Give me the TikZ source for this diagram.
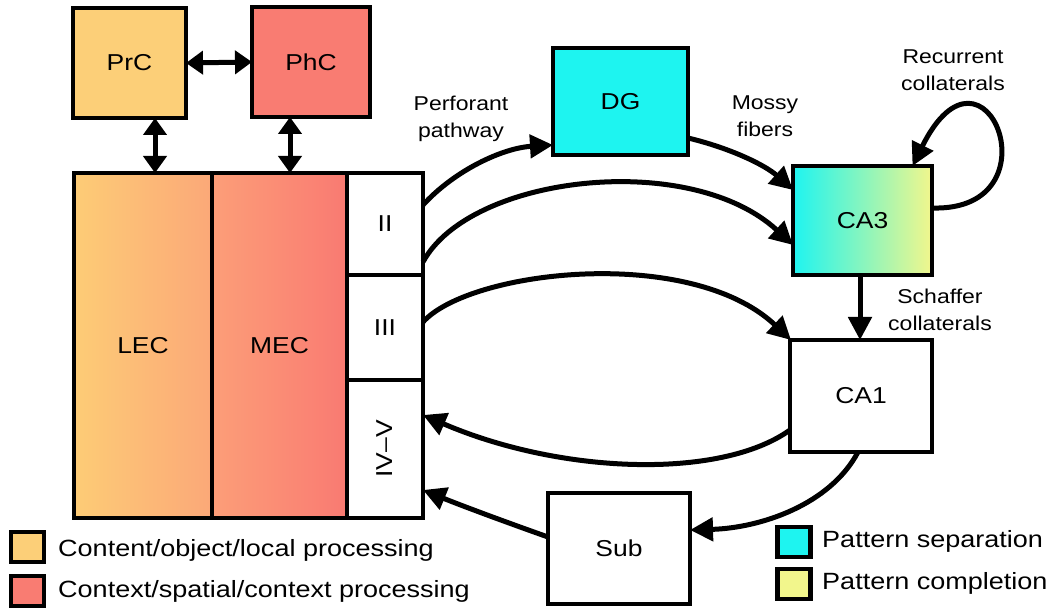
\documentclass[tikz,border=0pt]{standalone}
\usepackage{fontspec}
\setmainfont[FakeStretch=1.15]{Liberation Sans}
\usetikzlibrary{arrows.meta,calc}
\definecolor{prc}{HTML}{FCCF78}
\definecolor{phc}{HTML}{F97C72}
\definecolor{lecL}{HTML}{FDCC76}
\definecolor{lecR}{HTML}{FBA878}
\definecolor{mecL}{HTML}{FC9E78}
\definecolor{mecR}{HTML}{F97A72}
\definecolor{cyanc}{HTML}{1EF4F0}
\definecolor{yelc}{HTML}{F2F68C}
\begin{document}
\begin{tikzpicture}[x=1pt,y=-1pt,
  box/.style={draw=black,line width=4.5pt,inner sep=0pt,outer sep=0pt,font=\fontsize{23}{28}\selectfont},
  lbl/.style={align=center,font=\fontsize{20}{27}\selectfont,inner sep=0pt},
  leg/.style={anchor=west,font=\fontsize{23.5}{27}\selectfont,inner sep=0pt},
  sq/.style={draw=black,line width=4.5pt,minimum width=33pt,minimum height=30pt,inner sep=0pt,outer sep=0pt},
  conn/.style={line width=5pt,-{Triangle[length=23pt,width=23pt]}},
  dbl/.style={line width=5pt,{Triangle[length=17pt,width=23pt]}-{Triangle[length=17pt,width=23pt]}}]
\path[use as bounding box] (0,0) rectangle (1053,609);

% entorhinal cortex block
\node[box,minimum width=138pt,minimum height=345pt,left color=lecL,right color=lecR] (LEC) at (143,345.5) {LEC};
\node[box,minimum width=135pt,minimum height=345pt,left color=mecL,right color=mecR] (MEC) at (279.5,345.5) {MEC};
\node[box,minimum width=76pt,minimum height=102pt,fill=white] (II) at (385,224) {II};
\node[box,minimum width=76pt,minimum height=105pt,fill=white] (III) at (385,327.5) {III};
\node[box,minimum width=76pt,minimum height=138pt,fill=white] (IVV) at (385,449) {\rotatebox{90}{IV--V}};

% top boxes
\node[box,minimum width=113pt,minimum height=110pt,fill=prc] (PrC) at (129.5,63) {PrC};
\node[box,minimum width=118pt,minimum height=110pt,fill=phc] (PhC) at (311,62) {PhC};

% hippocampus
\node[box,minimum width=135pt,minimum height=107pt,fill=cyanc] (DG) at (620.5,101.5) {DG};
\node[box,minimum width=139pt,minimum height=109pt,left color=cyanc,right color=yelc] (CA3) at (862.5,220.5) {CA3};
\node[box,minimum width=142pt,minimum height=112pt,fill=white] (CA1) at (861,396) {CA1};
\node[box,minimum width=142pt,minimum height=111pt,fill=white] (Sub) at (619,548.5) {Sub};

% double arrows
\draw[dbl] (PrC.east) -- (PhC.west);
\draw[dbl] ([xshift=25.5pt]PrC.south) -- ([xshift=25.5pt]PrC.south |- LEC.north);
\draw[dbl] ([xshift=-21pt]PhC.south) -- ([xshift=-21pt]PhC.south |- MEC.north);

% pathways
\draw[conn] ([yshift=19pt]II.east) .. controls +(32,-35) and +(-50,3) .. ([yshift=-43.5pt]DG.west);
\draw[conn] ([yshift=-36.5pt]DG.east) .. controls +(42,10) and +(-28,-25) .. ([yshift=30.5pt]CA3.west);
\draw[conn] ([yshift=-38pt]II.east) .. controls (470,175) and (690,150) .. ([yshift=-24.5pt]CA3.west);
\draw[conn] ([yshift=5.5pt]III.east) .. controls (470,270) and (690,245) .. ([xshift=1pt]CA1.north west);
\draw[conn] ([yshift=-34pt]CA1.west) .. controls (720,480) and (560,474) .. ([yshift=34pt]IVV.east);
\draw[conn] ([xshift=-3pt]CA1.south) .. controls (830,505) and (760,528) .. ([yshift=18.5pt]Sub.east);
\draw[conn] ([yshift=11.5pt]Sub.west) .. controls (500,520) and (460,505) .. ([yshift=-41pt]IVV.east);
\draw[conn] ([yshift=12.5pt]CA3.east) .. controls (1060,212) and (985,20) .. ([xshift=50pt]CA3.north);
\draw[conn] ([xshift=-2.5pt]CA3.south) -- ([xshift=-2.5pt]CA3.south |- CA1.north);

% labels
\node[lbl] (perf) at (461,119) {Perforant\\pathway};
\node[lbl] (mossy) at (765,116) {Mossy\\fibers};
\node[lbl] (recur) at (953,70) {Recurrent\\collaterals};
\node[lbl] (schaf) at (940,310) {Schaffer\\collaterals};

% legends
\node[sq,fill=prc] (lg1) at (27.5,547) {};
\node[sq,fill=phc] (lg2) at (27.5,591) {};
\node[leg] (lt1) at (58,550) {Content/object/local processing};
\node[leg] (lt2) at (58,591) {Context/spatial/context processing};
\node[sq,fill=cyanc] (lg3) at (794,542) {};
\node[sq,fill=yelc] (lg4) at (794,584) {};
\node[leg] (lt3) at (822,541) {Pattern separation};
\node[leg] (lt4) at (822,583) {Pattern completion};
\end{tikzpicture}
\end{document}
